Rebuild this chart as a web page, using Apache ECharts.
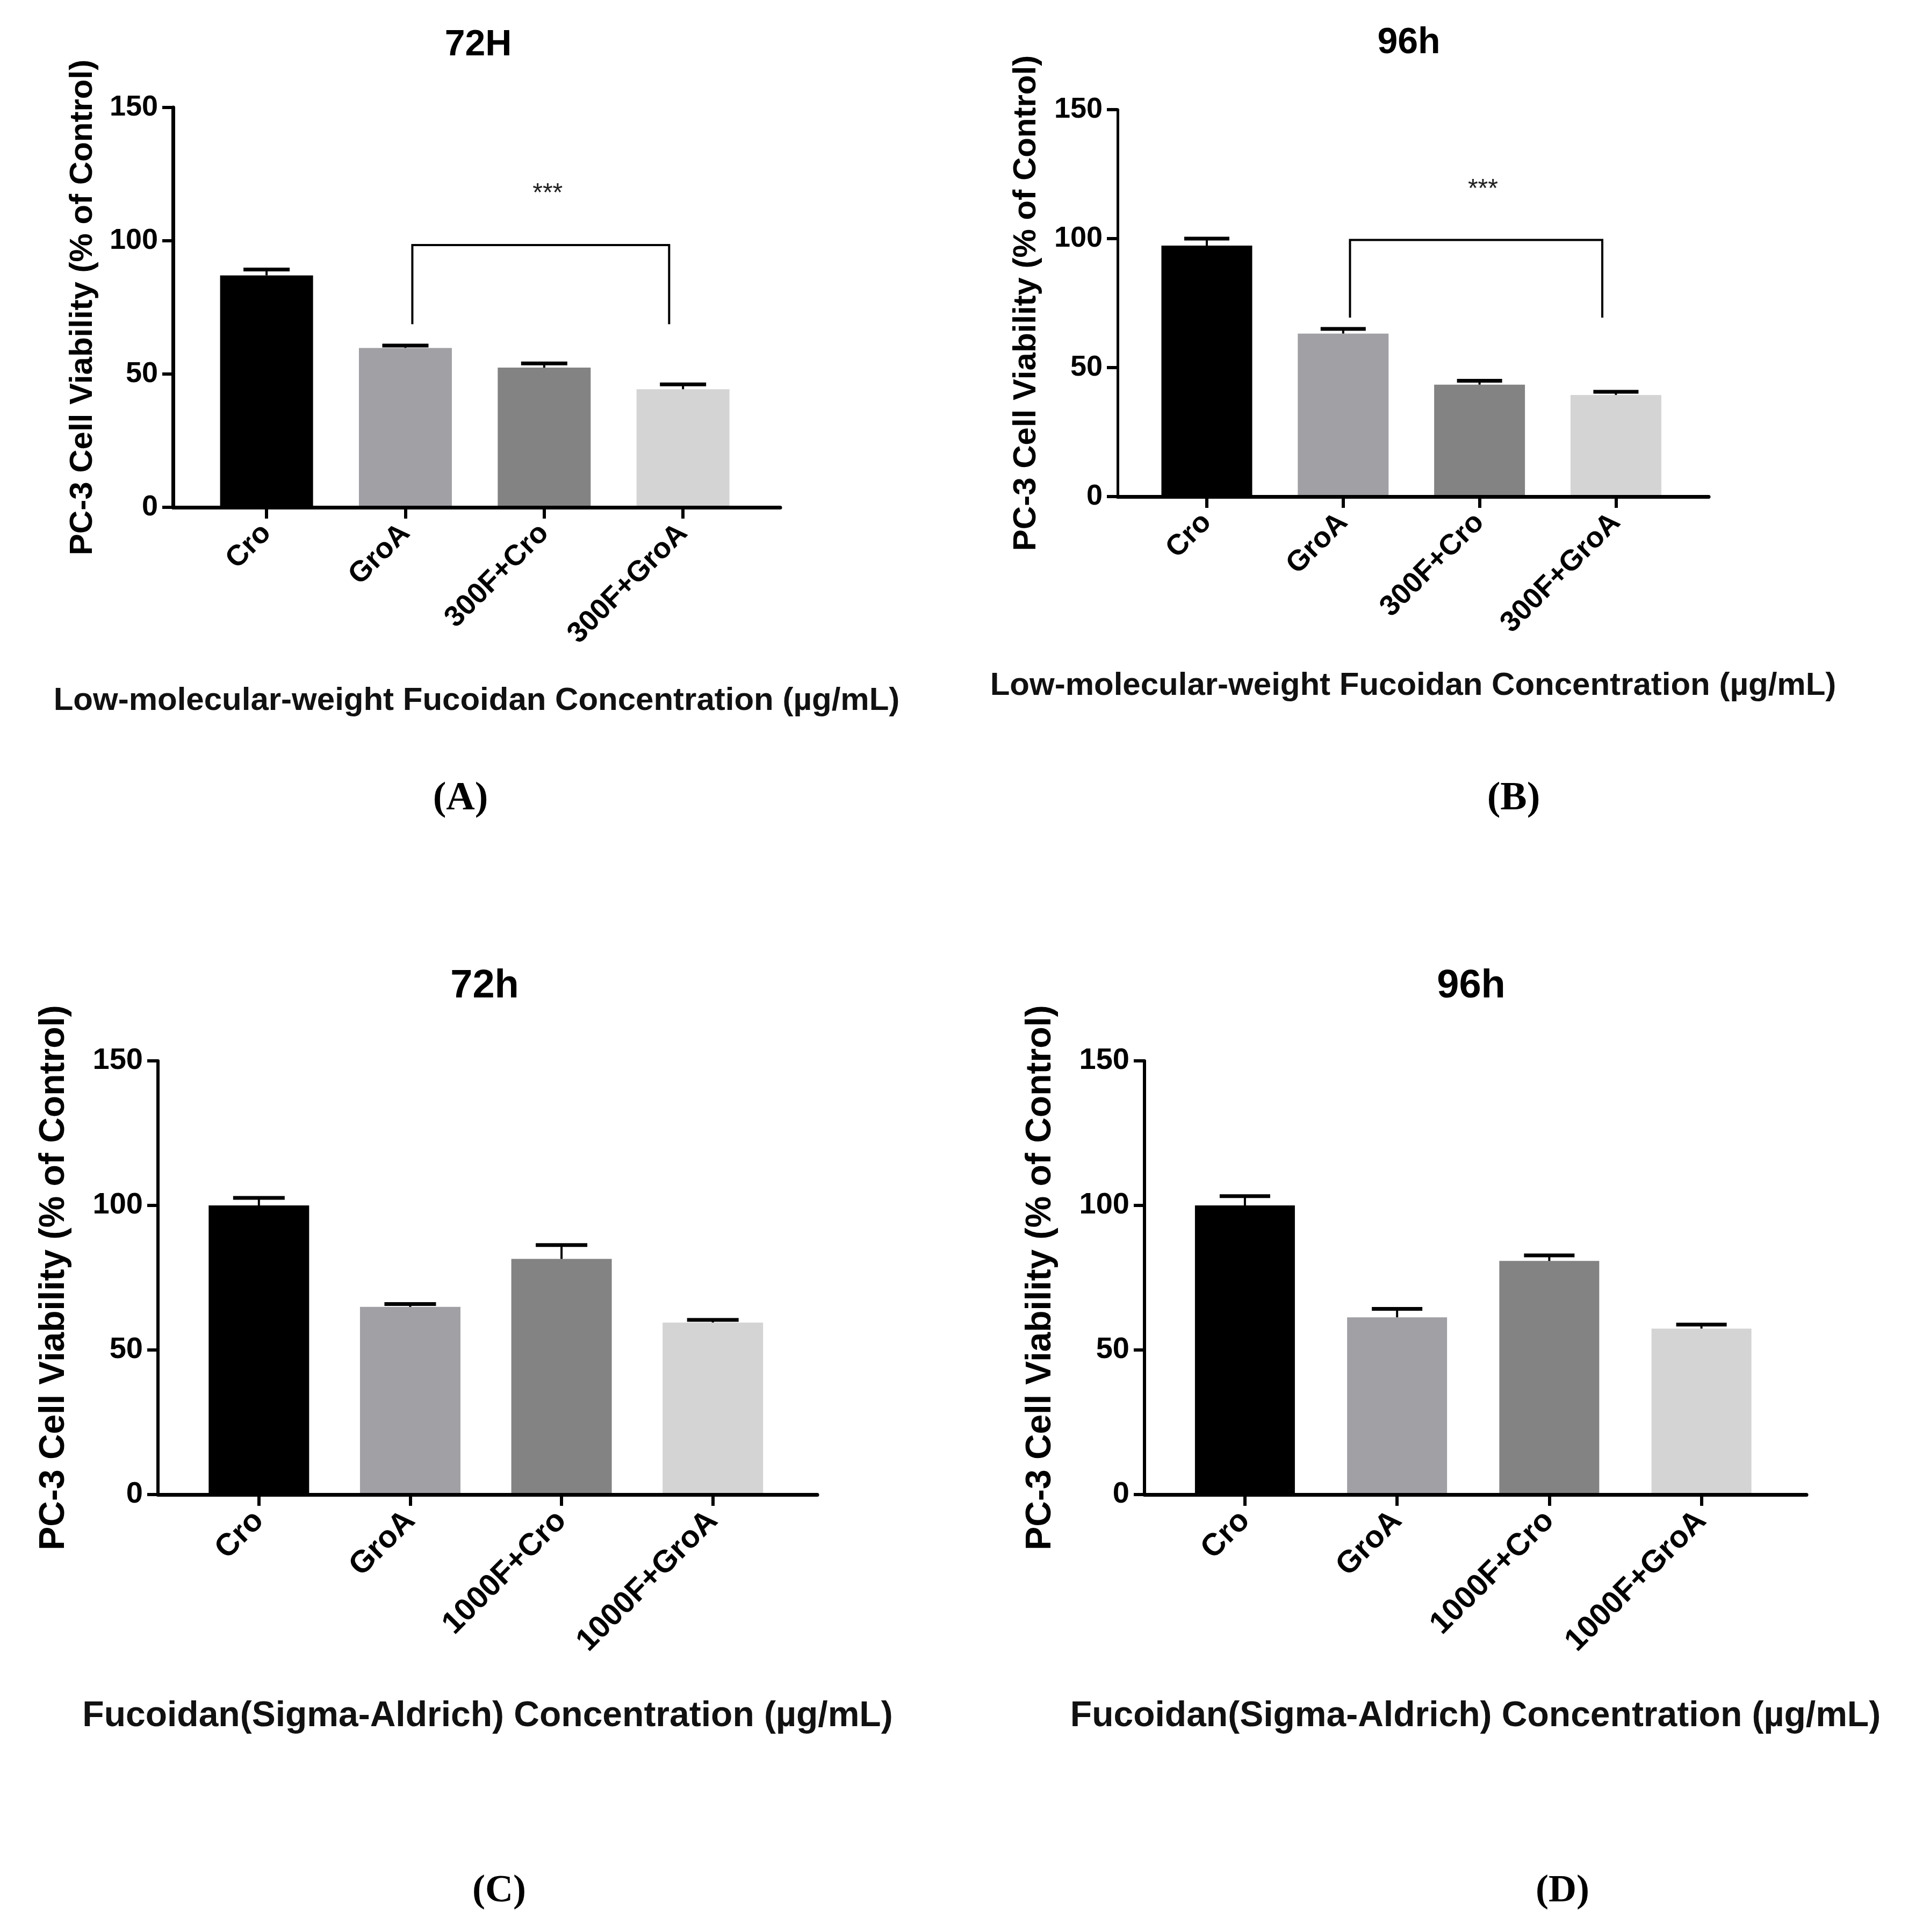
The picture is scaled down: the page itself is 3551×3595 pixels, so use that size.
<!DOCTYPE html>
<html><head><meta charset="utf-8">
<script src="https://cdn.jsdelivr.net/npm/echarts@6/dist/echarts.min.js"></script>
<style>html,body{margin:0;padding:0;background:#fff}#c{width:3551px;height:3595px}</style>
</head><body><div id="c"></div>
<script>
// ---------------- data ----------------
const catsLMW = ['Cro', 'GroA', '300F+Cro', '300F+GroA'];
const catsSigma = ['Cro', 'GroA', '1000F+Cro', '1000F+GroA'];
const titles = ['72H', '96h', '72h', '96h'];
const panelLabels = ['(A)', '(B)', '(C)', '(D)'];
const xTitleLMW = 'Low-molecular-weight Fucoidan Concentration (µg/mL)';
const xTitleSigma = 'Fucoidan(Sigma-Aldrich) Concentration (µg/mL)';
const yTitle = 'PC-3 Cell Viability (% of Control)';
const yTicks = [0, 50, 100, 150];
const barColors = ['#000000', '#a1a0a5', '#838383', '#d4d4d4'];

const meanA = [87.0, 59.8, 52.4, 44.3];
const errA  = [2.2, 0.9, 1.6, 1.8];
const meanB = [97.3, 63.2, 43.4, 39.4];
const errB  = [2.7, 1.8, 1.5, 1.2];
const meanC = [100.0, 64.9, 81.5, 59.5];
const errC  = [2.6, 1.0, 4.8, 0.9];
const meanD = [100.0, 61.3, 80.8, 57.4];
const errD  = [3.2, 2.9, 1.9, 1.4];

// significance brackets: [leftX, rightX, topValue, legEndValue, starValue]
const bracketA = [1.05, 2.9, 98.4, 68.7, 117.5];
const bracketB = [1.05, 2.9, 99.5, 69.4, 119.0];
const sigText = '***';

// ---------------- layout ----------------
const FONT = "'Liberation Sans', Arial, sans-serif";
const SERIF = "'Liberation Serif', 'Times New Roman', serif";
const panels = [
  {cats: catsLMW, mean: meanA, err: errA, title: titles[0], plabel: panelLabels[0], xTitle: xTitleLMW, bracket: bracketA,
   grid: {left: 322, top: 200, width: 1130, height: 744}, xMin: -0.674, xMax: 3.70, barW: 173, capW: 86,
   titlePos: [890, 84], labelPos: [857, 1487], fs: {tick: 54, xlab: 54, yt: 60, xt: 60, title: 68, pl: 74},
   yGap: 138, xGap: 330, axisW: 7, yAxisW: 7},
  {cats: catsLMW, mean: meanB, err: errB, title: titles[1], plabel: panelLabels[1], xTitle: xTitleLMW, bracket: bracketB,
   grid: {left: 2080, top: 204, width: 1100, height: 720}, xMin: -0.654, xMax: 3.68, barW: 169, capW: 84,
   titlePos: [2622, 80], labelPos: [2817, 1487], fs: {tick: 54, xlab: 54, yt: 60, xt: 60, title: 68, pl: 74},
   yGap: 140, xGap: 322, axisW: 7, yAxisW: 5},
  {cats: catsSigma, mean: meanC, err: errC, title: titles[2], plabel: panelLabels[2], xTitle: xTitleSigma, bracket: null,
   grid: {left: 294, top: 1974, width: 1227, height: 807}, xMin: -0.667, xMax: 3.69, barW: 187, capW: 96,
   titlePos: [902, 1836], labelPos: [929, 3519], fs: {tick: 56, xlab: 58, yt: 66, xt: 66, title: 74, pl: 72},
   yGap: 160, xGap: 380, axisW: 7, yAxisW: 6},
  {cats: catsSigma, mean: meanD, err: errD, title: titles[3], plabel: panelLabels[3], xTitle: xTitleSigma, bracket: null,
   grid: {left: 2130, top: 1974, width: 1232, height: 807}, xMin: -0.66, xMax: 3.69, barW: 186, capW: 94,
   titlePos: [2738, 1836], labelPos: [2908, 3519], fs: {tick: 56, xlab: 58, yt: 66, xt: 66, title: 74, pl: 72},
   yGap: 160, xGap: 380, axisW: 7, yAxisW: 6}
];

const option = {animation: false, backgroundColor: '#fff', grid: [], xAxis: [], yAxis: [], series: [], graphic: []};

panels.forEach((p, k) => {
  const idx = p.cats.map((c, i) => i);
  option.grid.push(Object.assign({containLabel: false}, p.grid));
  option.xAxis.push({
    type: 'value', gridIndex: k, min: p.xMin, max: p.xMax, z: 6,
    axisLine: {show: true, onZero: false, lineStyle: {color: '#000', width: p.axisW}},
    axisTick: {show: true, customValues: idx, length: 21, lineStyle: {color: '#000', width: 6}},
    axisLabel: {show: true, customValues: idx, formatter: v => p.cats[Math.round(v)], rotate: 45, margin: 40,
      fontFamily: FONT, fontWeight: 'bold', fontSize: p.fs.xlab, color: '#000'},
    splitLine: {show: false},
    name: p.xTitle, nameLocation: 'middle', nameGap: p.xGap,
    nameTextStyle: {fontFamily: FONT, fontWeight: 'bold', fontSize: p.fs.xt, color: '#111'}
  });
  option.yAxis.push({
    type: 'value', gridIndex: k, min: yTicks[0], max: yTicks[yTicks.length - 1], interval: 50, z: 6,
    axisLine: {show: true, onZero: false, lineStyle: {color: '#000', width: p.yAxisW}},
    axisTick: {show: true, length: 20, lineStyle: {color: '#000', width: 6}},
    axisLabel: {fontFamily: FONT, fontWeight: 'bold', fontSize: p.fs.tick, color: '#000', margin: 28},
    splitLine: {show: false},
    name: yTitle, nameLocation: 'middle', nameRotate: 90, nameGap: p.yGap,
    nameTextStyle: {fontFamily: FONT, fontWeight: 'bold', fontSize: p.fs.yt, color: '#000'}
  });
  option.series.push({
    type: 'bar', xAxisIndex: k, yAxisIndex: k, barWidth: p.barW,
    data: p.mean.map((v, i) => [i, v]),
    itemStyle: {color: params => barColors[params.dataIndex]},
    z: 2
  });
  option.series.push({
    type: 'custom', xAxisIndex: k, yAxisIndex: k, z: 3,
    data: p.mean.map((v, i) => [i, v, p.err[i]]),
    renderItem: (params, api) => {
      const x = api.value(0), m = api.value(1), e = api.value(2);
      const p0 = api.coord([x, m]);
      const p1 = api.coord([x, m + e]);
      const h = p.capW / 2;
      return {type: 'group', children: [
        {type: 'line', shape: {x1: p0[0], y1: p0[1], x2: p1[0], y2: p1[1]}, style: {stroke: '#000', lineWidth: 4}},
        {type: 'line', shape: {x1: p1[0] - h, y1: p1[1], x2: p1[0] + h, y2: p1[1]}, style: {stroke: '#000', lineWidth: 7}}
      ]};
    }
  });
  if (p.bracket) {
    const b = p.bracket;
    option.series.push({
      type: 'custom', xAxisIndex: k, yAxisIndex: k, z: 4,
      data: [[b[0], b[2], b[1], b[3], b[4]]],
      renderItem: (params, api) => {
        const x1 = api.value(0), top = api.value(1), x2 = api.value(2), leg = api.value(3), sy = api.value(4);
        const pts = [api.coord([x1, leg]), api.coord([x1, top]), api.coord([x2, top]), api.coord([x2, leg])];
        const t = api.coord([(x1 + x2) / 2 + 0.05, sy]);
        return {type: 'group', children: [
          {type: 'polyline', shape: {points: pts}, style: {stroke: '#000', lineWidth: 4, fill: null}},
          {type: 'text', x: t[0], y: t[1], style: {text: sigText, fontFamily: FONT, fontSize: 48, fill: '#222',
            align: 'center', verticalAlign: 'middle'}}
        ]};
      }
    });
  }
  option.graphic.push({type: 'text', x: p.titlePos[0], y: p.titlePos[1],
    style: {text: p.title, fontFamily: FONT, fontWeight: 'bold', fontSize: p.fs.title, fill: '#000',
      align: 'center', verticalAlign: 'middle'}});
  option.graphic.push({type: 'text', x: p.labelPos[0], y: p.labelPos[1],
    style: {text: p.plabel, fontFamily: SERIF, fontWeight: 'bold', fontSize: p.fs.pl, fill: '#000',
      align: 'center', verticalAlign: 'middle'}});
});

const chart = echarts.init(document.getElementById('c'), null, {renderer: 'canvas', width: 3551, height: 3595});
chart.setOption(option);
</script></body></html>
